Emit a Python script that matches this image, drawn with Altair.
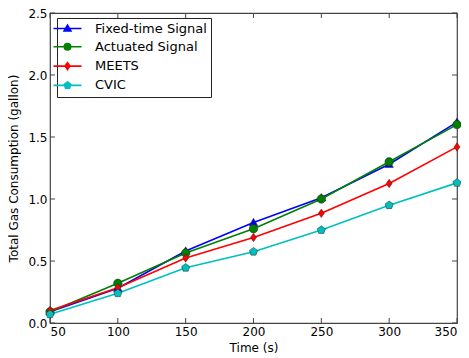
import altair as alt
import pandas as pd

times = [50, 100, 150, 200, 250, 300, 350]
fixed_time = [0.09, 0.28, 0.58, 0.81, 1.01, 1.28, 1.62]
actuated = [0.09, 0.32, 0.565, 0.76, 1.00, 1.30, 1.60]
meets = [0.10, 0.285, 0.525, 0.69, 0.885, 1.125, 1.42]
cvic = [0.07, 0.24, 0.445, 0.575, 0.75, 0.95, 1.13]

series_names = ["Fixed-time Signal", "Actuated Signal", "MEETS", "CVIC"]
series_values = [fixed_time, actuated, meets, cvic]
colors = ["#0000ff", "#008000", "#ff0000", "#00bfbf"]

x_ticks = [50, 100, 150, 200, 250, 300, 350]
y_ticks = [0.0, 0.5, 1.0, 1.5, 2.0, 2.5]

# marker shapes (unit paths)
tri = "M0,-1L1,0.75L-1,0.75Z"
circ = "M-1,0A1,1,0,1,0,1,0A1,1,0,1,0,-1,0Z"
diam = "M0,-1L0.7,0L0,1L-0.7,0Z"
pent = "M0,-1L0.951,-0.309L0.588,0.809L-0.588,0.809L-0.951,-0.309Z"
markers = [tri, circ, diam, pent]

# legend symbols: line segment + slightly smaller marker
seg = "M-3.5,0H3.5"
tri_l = "M0,-0.85L0.85,0.64L-0.85,0.64Z"
circ_l = "M-0.8,0A0.8,0.8,0,1,0,0.8,0A0.8,0.8,0,1,0,-0.8,0Z"
diam_l = "M0,-0.85L0.6,0L0,0.85L-0.6,0Z"
pent_l = "M0,-0.85L0.808,-0.263L0.5,0.688L-0.5,0.688L-0.808,-0.263Z"
legend_paths = [seg + m for m in [tri_l, circ_l, diam_l, pent_l]]

rows = []
for name, vals in zip(series_names, series_values):
    for t, v in zip(times, vals):
        rows.append({"time": t, "value": v, "series": name})
df = pd.DataFrame(rows)

W, H = 407, 310
FONT = "DejaVu Sans"
FRAME = "#444444"

x_scale = alt.Scale(domain=[50, 350], nice=False, zero=False)
y_scale = alt.Scale(domain=[0, 2.5], nice=False, zero=False)
x_axis = alt.Axis(values=x_ticks, title="Time (s)", tickSize=0, domain=False,
                  grid=False, labelPadding=3, titlePadding=5, format="d")
y_axis = alt.Axis(values=y_ticks, title="Total Gas Consumption (gallon)", tickSize=0,
                  domain=False, grid=False, labelPadding=3, titlePadding=7, format=".1f")
x_enc = alt.X("time:Q", scale=x_scale, axis=x_axis)
y_enc = alt.Y("value:Q", scale=y_scale, axis=y_axis)

base = alt.Chart(df)

line_layers = []
point_layers = []
for name, col, shp in zip(series_names, colors, markers):
    sub = base.transform_filter(alt.datum.series == name)
    line_layers.append(
        sub.mark_line(strokeWidth=1.6, color=col).encode(x=x_enc, y=y_enc)
    )
    point_layers.append(
        sub.mark_point(filled=True, size=72, shape=shp, fill=col, stroke="#222222",
                       strokeWidth=0.5, opacity=1).encode(x=x_enc, y=y_enc)
    )

leg = alt.Legend(
    title=None, orient="none", legendX=7, legendY=5, padding=4,
    strokeColor="#222222", fillColor="white", cornerRadius=0,
    symbolSize=64, symbolStrokeWidth=1.6, labelFontSize=13, labelFont=FONT,
    labelColor="black", labelOffset=21, rowPadding=4.3, labelLimit=300,
)

color_scale = alt.Scale(domain=series_names, range=colors)
legend_layer = base.transform_filter("false").mark_point(
    filled=True, size=64, strokeWidth=1.6, opacity=1
).encode(
    x=x_enc,
    y=y_enc,
    fill=alt.Fill("series:N", scale=color_scale, legend=leg),
    stroke=alt.Stroke("series:N", scale=color_scale, legend=leg),
    shape=alt.Shape("series:N", scale=alt.Scale(domain=series_names, range=legend_paths), legend=leg),
)

xt = pd.DataFrame({"time": x_ticks})
yt = pd.DataFrame({"value": y_ticks})
tick_bottom = alt.Chart(xt).mark_rule(color=FRAME, strokeWidth=1).encode(
    x=x_enc, y=alt.value(H), y2=alt.value(H - 5))
tick_top = alt.Chart(xt).mark_rule(color=FRAME, strokeWidth=1).encode(
    x=x_enc, y=alt.value(0), y2=alt.value(5))
tick_left = alt.Chart(yt).mark_rule(color=FRAME, strokeWidth=1).encode(
    y=y_enc, x=alt.value(0), x2=alt.value(5))
tick_right = alt.Chart(yt).mark_rule(color=FRAME, strokeWidth=1).encode(
    y=y_enc, x=alt.value(W), x2=alt.value(W - 5))

chart = alt.layer(
    tick_bottom, tick_top, tick_left, tick_right, *line_layers, *point_layers, legend_layer
).properties(
    width=W, height=H,
    background="white",
    autosize=alt.AutoSizeParams(type="none"),
    padding={"left": 42, "top": 5, "right": 4, "bottom": 35},
).configure_view(
    stroke=FRAME, strokeWidth=1.2
).configure_axis(
    labelFont=FONT, titleFont=FONT, labelFontSize=12, titleFontSize=12,
    labelColor="black", titleColor="black", titleFontWeight="normal",
)

chart.save("out.html", embed_options={"renderer": "svg", "actions": False})
